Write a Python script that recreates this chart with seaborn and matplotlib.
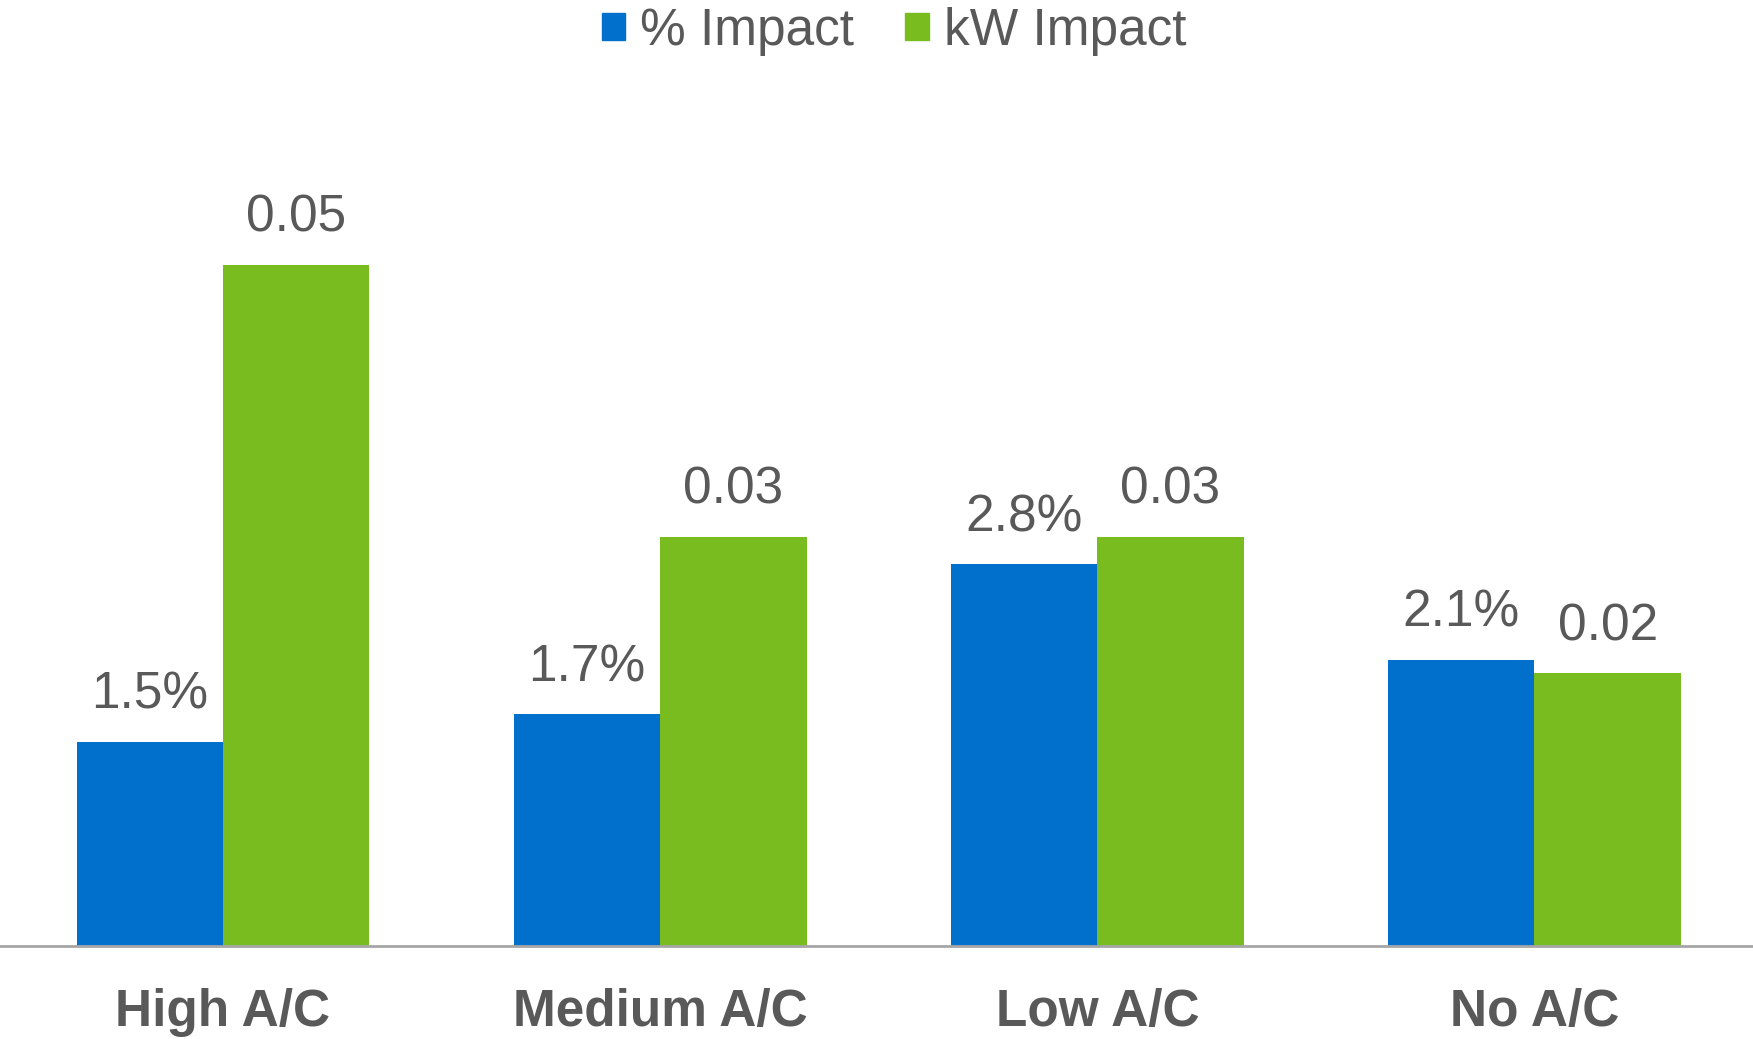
import matplotlib
matplotlib.use("Agg")
import matplotlib.pyplot as plt
import seaborn as sns
import pandas as pd

categories = ["High A/C", "Medium A/C", "Low A/C", "No A/C"]
pct_impact = [1.5, 1.7, 2.8, 2.1]        # percent
kw_impact = [0.05, 0.03, 0.03, 0.02]     # kW
series = ["% Impact", "kW Impact"]
colors = ["#0070CC", "#78BC1F"]

sns.set_theme(style="white")
plt.rcParams["font.family"] = ["Liberation Sans", "DejaVu Sans"]

df = pd.DataFrame({
    "category": categories * 2,
    "series": [series[0]] * 4 + [series[1]] * 4,
    "value": [p / 100 for p in pct_impact] + kw_impact,
})

fig = plt.figure(figsize=(17.53, 10.39), dpi=100)
ax = fig.add_axes([0.0, 0.0895, 1.0, 0.787])

sns.barplot(data=df, x="category", y="value", hue="series", order=categories,
            hue_order=series, palette=colors, width=0.67, saturation=1,
            edgecolor="none", linewidth=0, ax=ax)

text_color = "#595959"
labels = [[f"{p:.1f}%" for p in pct_impact], [f"{k:.2f}" for k in kw_impact]]
for cont, labs in zip(ax.containers, labels):
    ax.bar_label(cont, labels=labs, padding=16, fontsize=37, color=text_color)

ax.set_xlim(-0.51, 3.5)
ax.set_ylim(0, 0.06)
ax.set_xlabel("")
ax.set_ylabel("")
ax.set_yticks([])
ax.tick_params(axis="x", length=0, pad=30, labelsize=37, labelcolor=text_color)
for lab in ax.get_xticklabels():
    lab.set_fontweight("bold")
for side in ["top", "left", "right"]:
    ax.spines[side].set_visible(False)
ax.spines["bottom"].set_color("#A6A6A6")
ax.spines["bottom"].set_linewidth(2)

ax.legend_.remove()
handles = [plt.Rectangle((0, 0), 1, 1, color=c) for c in colors]
leg = fig.legend(handles, series, loc="upper center", bbox_to_anchor=(0.51, 1.038),
                 ncol=2, frameon=False, fontsize=37, handlelength=0.45,
                 handleheight=0.45, handletextpad=0.3, columnspacing=1.0)
for t in leg.get_texts():
    t.set_color(text_color)

fig.savefig("out.png", dpi=100)
